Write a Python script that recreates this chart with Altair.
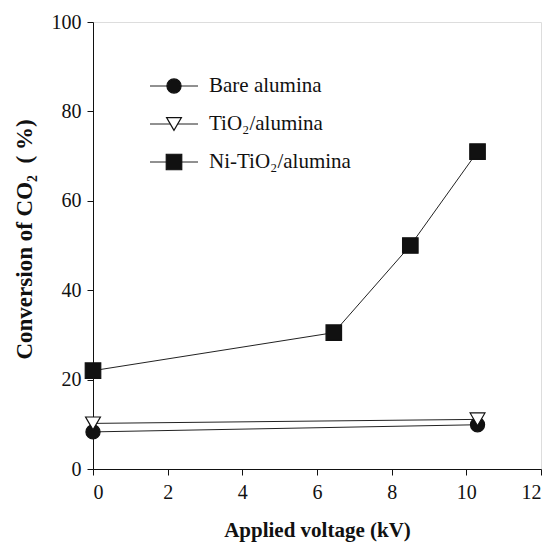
import altair as alt
import pandas as pd

# ---- data ----
series_names = ["Bare alumina", "TiO₂/alumina", "Ni-TiO₂/alumina"]
bare_x = [0.0, 10.3]
bare_y = [8.3, 9.9]
tio2_x = [0.0, 10.3]
tio2_y = [10.2, 11.1]
ni_x = [0.0, 6.45, 8.5, 10.3]
ni_y = [22.0, 30.5, 50.0, 71.0]
x_ticks = [0, 2, 4, 6, 8, 10, 12]
y_ticks = [0, 20, 40, 60, 80, 100]

rows = []
for name, xs, ys in zip(series_names, [bare_x, tio2_x, ni_x], [bare_y, tio2_y, ni_y]):
    for xv, yv in zip(xs, ys):
        rows.append({"series": name, "voltage": xv, "conversion": yv})
df = pd.DataFrame(rows)
legend_df = pd.DataFrame({"series": series_names, "row": list(range(len(series_names)))})

FONT = "Liberation Serif"
INK = "#111111"

shape_scale = alt.Scale(domain=series_names, range=["circle", "triangle-down", "square"])
fill_scale = alt.Scale(domain=series_names, range=[INK, "#ffffff", INK])
size_scale = alt.Scale(domain=series_names, range=[200, 240, 180])

axis_common = dict(
    grid=False, domainColor=INK, domainWidth=1, tickColor=INK, tickWidth=1, tickSize=6,
    labelFont=FONT, labelFontSize=20, labelColor=INK,
    titleFont=FONT, titleFontWeight="bold", titleColor=INK,
)

x_enc = alt.X(
    "voltage:Q",
    scale=alt.Scale(domain=[0, 12], nice=False, zero=False),
    axis=alt.Axis(values=x_ticks, title="Applied voltage (kV)", labelPadding=7,
                  titleFontSize=21,
                  titleX=224, titleY=67, titleAlign="center", titleBaseline="alphabetic",
                  **axis_common),
)
y_scale = alt.Scale(domain=[0, 100], nice=False)
y_enc = alt.Y(
    "conversion:Q",
    scale=y_scale,
    axis=alt.Axis(values=y_ticks, title="Conversion of CO₂\u00a0\u00a0(\u00a0%)", labelPadding=6,
                  titleFontSize=23,
                  titleX=-69, titleY=217, titleAngle=270, titleAlign="center",
                  titleBaseline="middle", **axis_common),
)

lines = alt.Chart(df).mark_line(color="#222222", strokeWidth=1).encode(
    x=x_enc, y=y_enc, detail="series:N", order="voltage:Q"
)
points = alt.Chart(df).mark_point(stroke=INK, strokeWidth=1.2, opacity=1).encode(
    x=alt.X("voltage:Q", scale=alt.Scale(domain=[0, 12], nice=False, zero=False)),
    y=alt.Y("conversion:Q", scale=y_scale),
    shape=alt.Shape("series:N", scale=shape_scale, legend=None),
    fill=alt.Fill("series:N", scale=fill_scale, legend=None),
    size=alt.Size("series:N", scale=size_scale, legend=None),
)
main = alt.layer(lines, points)

leg_y = alt.Y("row:Q", scale=alt.Scale(domain=[0, 2], range=[64, 140], nice=False, zero=False), axis=None)
leg_rule = alt.Chart(legend_df).mark_rule(color="#222222", strokeWidth=1).encode(
    x=alt.value(57), x2=alt.value(105), y=leg_y
)
leg_pts = alt.Chart(legend_df).mark_point(stroke=INK, strokeWidth=1.2, opacity=1).encode(
    x=alt.value(81), y=leg_y,
    shape=alt.Shape("series:N", scale=shape_scale, legend=None),
    fill=alt.Fill("series:N", scale=fill_scale, legend=None),
    size=alt.Size("series:N", scale=size_scale, legend=None),
)
leg_text = alt.Chart(legend_df).mark_text(
    align="left", baseline="middle", font=FONT, fontSize=21, color=INK
).encode(x=alt.value(116), y=leg_y, text="series:N")
legend = alt.layer(leg_rule, leg_pts, leg_text)

chart = alt.layer(main, legend).resolve_scale(y="independent").properties(
    width=448, height=447,
    padding={"left": 93, "top": 22, "right": 11, "bottom": 73},
    autosize=alt.AutoSizeParams(type="none"),
).configure_view(stroke=None).configure(background="white")

chart.save("out.html", embed_options={"renderer": "svg", "actions": False})
